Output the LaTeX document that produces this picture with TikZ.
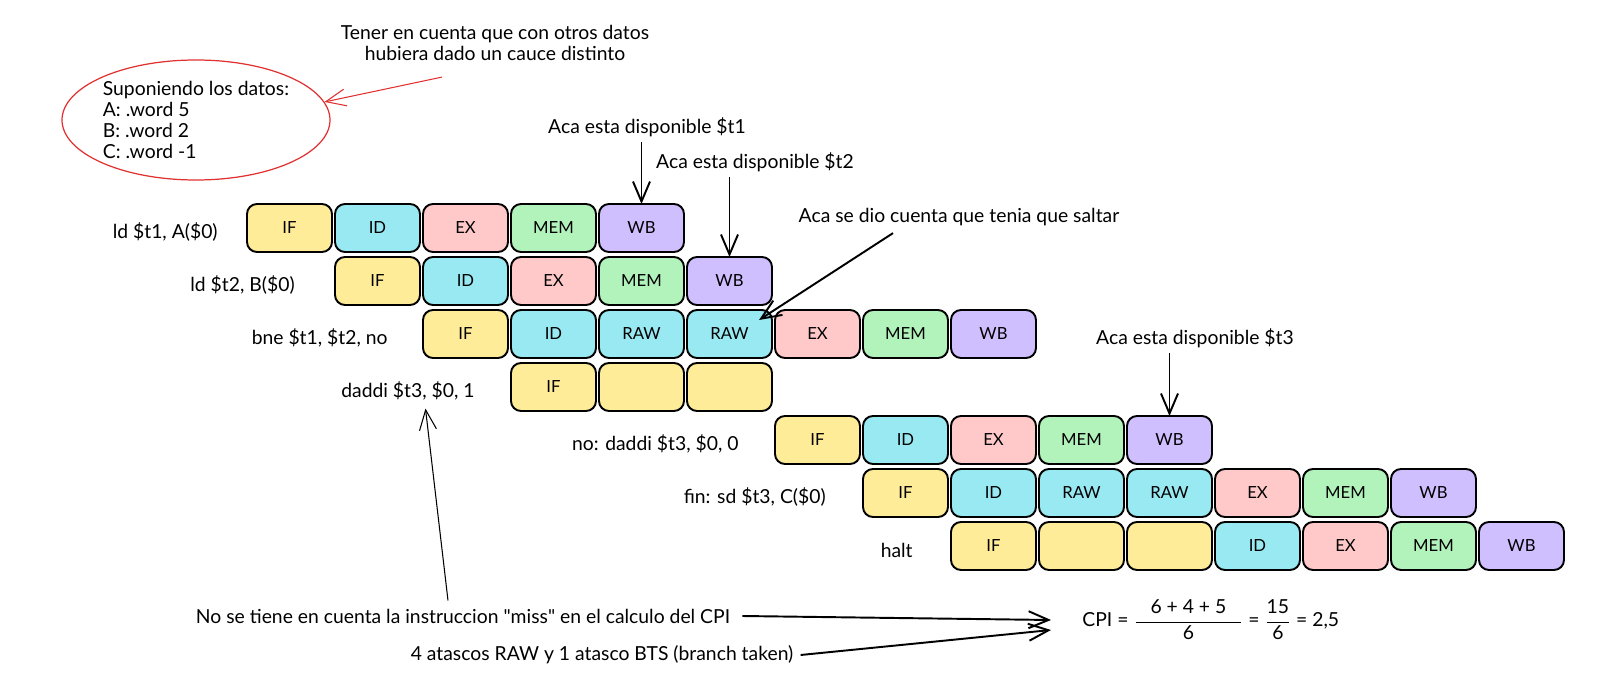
\documentclass[tikz,border=0pt]{standalone}
\usepackage{fontspec}
\setmainfont{Lato}
\usepackage{amsmath}
\usetikzlibrary{arrows.meta,calc,positioning,shapes.geometric}

\definecolor{ifc}{HTML}{FFEC99}
\definecolor{idc}{HTML}{99E9F2}
\definecolor{exc}{HTML}{FFC9C9}
\definecolor{memc}{HTML}{B2F2BB}
\definecolor{wbc}{HTML}{D0BFFF}
\definecolor{notered}{HTML}{E03131}

\tikzset{
  stage/.style={draw=black,line width=1.1pt,rounded corners=2mm,minimum width=1.7cm,
    minimum height=0.96cm,inner sep=0,outer sep=0,font=\fontsize{9.5}{11}\selectfont},
  ifst/.style={stage,fill=ifc},
  idst/.style={stage,fill=idc},
  exst/.style={stage,fill=exc},
  memst/.style={stage,fill=memc},
  wbst/.style={stage,fill=wbc},
  instr/.style={anchor=east,inner sep=0,yshift=-0.08cm,font=\fontsize{11}{12}\selectfont},
  note/.style={inner sep=0,font=\fontsize{11}{12}\selectfont},
  arr/.style={line width=1.1pt,-{Straight Barb[length=4mm,width=3.4mm]}},
  thinarr/.style={line width=0.6pt,-{Straight Barb[length=4mm,width=3.4mm]}},
}

\begin{document}
\begin{tikzpicture}
   \useasboundingbox (0,0) rectangle (32,-13.8);

   % Data note
   \node[note,align=center] (tener) at (9.9,-0.86) {Tener en cuenta que con otros datos\\hubiera dado un cauce distinto};
   \node[draw=notered,line width=0.7pt,ellipse,minimum width=5.36cm,minimum height=2.4cm,
         inner sep=0,align=left,font=\fontsize{11}{12}\selectfont] (datos) at (3.92,-2.4)
         {Suponiendo los datos:\\A: .word 5\\B: .word 2\\C: .word -1};
   \draw[thinarr,notered] ($(tener.south)+(-1.06,-0.32)$) -- (datos.8);

   % ld $t1
   \node[ifst] (r1if) at (5.79,-4.56) {IF};
   \node[idst,right=0.06cm of r1if] (r1id) {ID};
   \node[exst,right=0.06cm of r1id] (r1ex) {EX};
   \node[memst,right=0.06cm of r1ex] (r1mem) {MEM};
   \node[wbst,right=0.06cm of r1mem] (r1wb) {WB};
   \node[instr,left=0.58cm of r1if] (i1) {ld \$t1, A(\$0)};

   % ld $t2
   \node[ifst] (r2if) at (7.55,-5.62) {IF};
   \node[idst,right=0.06cm of r2if] (r2id) {ID};
   \node[exst,right=0.06cm of r2id] (r2ex) {EX};
   \node[memst,right=0.06cm of r2ex] (r2mem) {MEM};
   \node[wbst,right=0.06cm of r2mem] (r2wb) {WB};
   \node[instr,left=0.8cm of r2if] (i2) {ld \$t2, B(\$0)};

   % bne
   \node[ifst] (r3if) at (9.31,-6.68) {IF};
   \node[idst,right=0.06cm of r3if] (r3id) {ID};
   \node[idst,right=0.06cm of r3id] (r3rawa) {RAW};
   \node[idst,right=0.06cm of r3rawa] (r3rawb) {RAW};
   \node[exst,right=0.06cm of r3rawb] (r3ex) {EX};
   \node[memst,right=0.06cm of r3ex] (r3mem) {MEM};
   \node[wbst,right=0.06cm of r3mem] (r3wb) {WB};
   \node[instr,left=0.7cm of r3if] (i3) {bne \$t1, \$t2, no};

   % daddi (miss)
   \node[ifst] (r4if) at (11.07,-7.74) {IF};
   \node[ifst,right=0.06cm of r4if] (r4e1) {};
   \node[ifst,right=0.06cm of r4e1] (r4e2) {};
   \node[instr,left=0.72cm of r4if] (i4) {daddi \$t3, \$0, 1};

   % no: daddi
   \node[ifst] (r5if) at (16.35,-8.80) {IF};
   \node[idst,right=0.06cm of r5if] (r5id) {ID};
   \node[exst,right=0.06cm of r5id] (r5ex) {EX};
   \node[memst,right=0.06cm of r5ex] (r5mem) {MEM};
   \node[wbst,right=0.06cm of r5mem] (r5wb) {WB};
   \node[instr,left=0.72cm of r5if] (i5) {no: daddi \$t3, \$0, 0};

   % fin: sd
   \node[ifst] (r6if) at (18.11,-9.86) {IF};
   \node[idst,right=0.06cm of r6if] (r6id) {ID};
   \node[idst,right=0.06cm of r6id] (r6rawa) {RAW};
   \node[idst,right=0.06cm of r6rawa] (r6rawb) {RAW};
   \node[exst,right=0.06cm of r6rawb] (r6ex) {EX};
   \node[memst,right=0.06cm of r6ex] (r6mem) {MEM};
   \node[wbst,right=0.06cm of r6mem] (r6wb) {WB};
   \node[instr,left=0.74cm of r6if] (i6) {fin: sd \$t3, C(\$0)};

   % halt
   \node[ifst] (r7if) at (19.87,-10.92) {IF};
   \node[ifst,right=0.06cm of r7if] (r7e1) {};
   \node[ifst,right=0.06cm of r7e1] (r7e2) {};
   \node[idst,right=0.06cm of r7e2] (r7id) {ID};
   \node[exst,right=0.06cm of r7id] (r7ex) {EX};
   \node[memst,right=0.06cm of r7ex] (r7mem) {MEM};
   \node[wbst,right=0.06cm of r7mem] (r7wb) {WB};
   \node[instr,left=0.76cm of r7if] (i7) {halt};

   % Remarks on the pipeline
   \node[note] (disp1) at (12.94,-2.54) {Aca esta disponible \$t1};
   \draw[arr] ([yshift=-0.1cm]r1wb.north |- disp1.south) -- (r1wb.north);

   \node[note] (disp2) at (15.1,-3.24) {Aca esta disponible \$t2};
   \draw[arr] ([yshift=-0.1cm]r2wb.north |- disp2.south) -- (r2wb.north);

   \node[note] (saltar) at (19.18,-4.34) {Aca se dio cuenta que tenia que saltar};
   \draw[arr] ($(saltar.south)+(-1.32,-0.14)$) -- ($(r3rawb.north east)+(-0.26,-0.2)$);

   \node[note] (disp3) at (23.9,-6.76) {Aca esta disponible \$t3};
   \draw[arr] ([yshift=-0.1cm]r5wb.north |- disp3.south) -- (r5wb.north);

   % CPI
   \node[note,anchor=west] (cpi) at (21.64,-12.4)
        {CPI = $\dfrac{\hspace{0.3cm}\text{6 + 4 + 5}\hspace{0.3cm}}{\text{6}}$ = $\dfrac{\text{15}}{\text{6}}$ = 2,5};

   \node[note] (miss) at (9.26,-12.32) {No se tiene en cuenta la instruccion \textquotedbl miss\textquotedbl{} en el calculo del CPI};
   \node[note] (atascos) at (12.04,-13.1) {4 atascos RAW y 1 atasco BTS (branch taken)};

   \draw[arr] ([xshift=0.24cm]miss.east) -- ([xshift=-0.62cm]cpi.west);
   \draw[arr] ([xshift=0.14cm]atascos.east) -- ([xshift=-0.62cm,yshift=-0.2cm]cpi.west);
   \draw[thinarr] ($(miss.north)+(-0.3,0.16)$) -- ($(i4.south)+(0.35,-0.16)$);

\end{tikzpicture}
\end{document}
